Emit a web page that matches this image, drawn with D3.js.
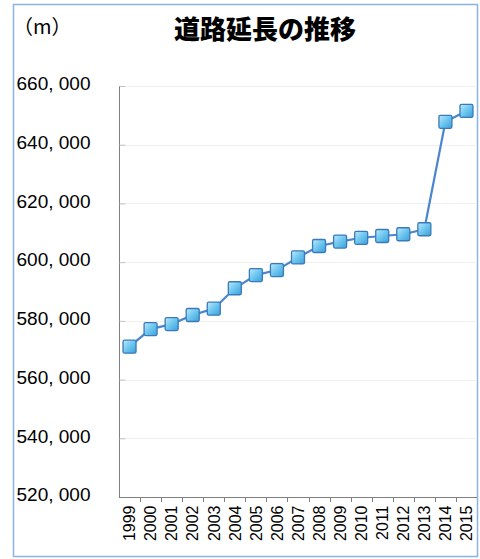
<!DOCTYPE html>
<html><head><meta charset="utf-8">
<script src="https://cdn.jsdelivr.net/npm/d3@7"></script>
<style>body{margin:0;background:#fff}svg{display:block}</style>
</head><body>
<script>
const years = ["1999","2000","2001","2002","2003","2004","2005","2006","2007","2008","2009","2010","2011","2012","2013","2014","2015"];
const roadLength = [571200,577200,578900,582000,584150,591100,595600,597300,601600,605500,607000,608300,608900,609500,611200,647800,651500];
const yTicks = [520000,540000,560000,580000,600000,620000,640000,660000];
const title = "道路延長の推移";
const unit = "（m）";

(function(){
const W=480,H=559;
const svg=d3.select("body").append("svg").attr("width",W).attr("height",H);
const defs=svg.append("defs");
const g=defs.append("linearGradient").attr("id","mk").attr("x1",0).attr("y1",0).attr("x2",1).attr("y2",1);
g.append("stop").attr("offset","0%").attr("stop-color","#bfe9fb");
g.append("stop").attr("offset","50%").attr("stop-color","#6cc6ef");
g.append("stop").attr("offset","100%").attr("stop-color","#3d9ed9");

svg.append("rect").attr("x",13.5).attr("y",4.5).attr("width",464).attr("height",552)
  .attr("fill","#fff").attr("stroke","#8db3e2").attr("stroke-width",1.5);

const pL=119,pR=477,pT=86,pB=497;
const x=d3.scaleBand().domain(years).range([pL,pR]);
const y=d3.scaleLinear().domain([520000,660000]).range([pB,pT]);

svg.append("g").selectAll("line").data(yTicks.slice(1)).join("line")
  .attr("x1",pL).attr("x2",pR).attr("y1",d=>Math.round(y(d))+0.5).attr("y2",d=>Math.round(y(d))+0.5)
  .attr("stroke","#f0f0f0").attr("stroke-width",1);

const fmt=d=>d3.format(",")(d).replace(",",", ");
const ya=svg.append("g").attr("transform",`translate(${pL+0.5},0)`)
  .call(d3.axisLeft(y).tickValues(yTicks).tickFormat(fmt).tickSize(5));
ya.select(".domain").attr("stroke","#808080").attr("d",`M0,${pT}V${pB+0.5}`);
ya.selectAll(".tick line").attr("stroke","#c0c0c0").attr("x2",6).attr("x1",0);
ya.selectAll("text").attr("font-family","'Liberation Sans Narrow','Liberation Sans',Arial,sans-serif").attr("font-size",19).attr("fill","#000")
  .attr("text-anchor","start").attr("x",-103).attr("dy","0.2em");

const xa=svg.append("g").attr("transform",`translate(0,${pB+0.5})`)
  .call(d3.axisBottom(x).tickSize(0).tickFormat(d=>d));
xa.select(".domain").attr("stroke","#808080").attr("d",`M${pL},0H${pR}`);
xa.selectAll(".tick text").attr("font-family","'Liberation Sans',Arial,sans-serif").attr("font-size",16).attr("fill","#000")
  .attr("transform","rotate(-90)").attr("text-anchor","end").attr("x",-8).attr("y",0).attr("dy","0.36em");
svg.append("g").selectAll("line").data(years.slice(1)).join("line")
  .attr("x1",d=>Math.round(x(d))+0.5).attr("x2",d=>Math.round(x(d))+0.5)
  .attr("y1",pB).attr("y2",pB+5).attr("stroke","#808080");

const cx=d=>x(d)+x.bandwidth()/2;
const pts=roadLength.map((v,i)=>[years[i],v]);
svg.append("path").datum(pts)
  .attr("d",d3.line().x(d=>cx(d[0])).y(d=>y(d[1])))
  .attr("fill","none").attr("stroke","#4a86d0").attr("stroke-width",2.2);

svg.append("g").selectAll("rect").data(pts).join("rect")
  .attr("x",d=>cx(d[0])-6.5).attr("y",d=>y(d[1])-6.5).attr("width",13).attr("height",13)
  .attr("rx",1.5).attr("fill","url(#mk)").attr("stroke","#3a7ab8").attr("stroke-width",1.3);

svg.append("text").attr("x",265).attr("y",39).attr("text-anchor","middle")
  .attr("font-family","'Noto Sans CJK JP',sans-serif").attr("font-weight",900).attr("font-size",26).text(title);
svg.append("text").attr("x",13).attr("y",34)
  .attr("font-family","'Noto Sans CJK JP',sans-serif").attr("font-size",20).text(unit);
})();
</script>
</body></html>
